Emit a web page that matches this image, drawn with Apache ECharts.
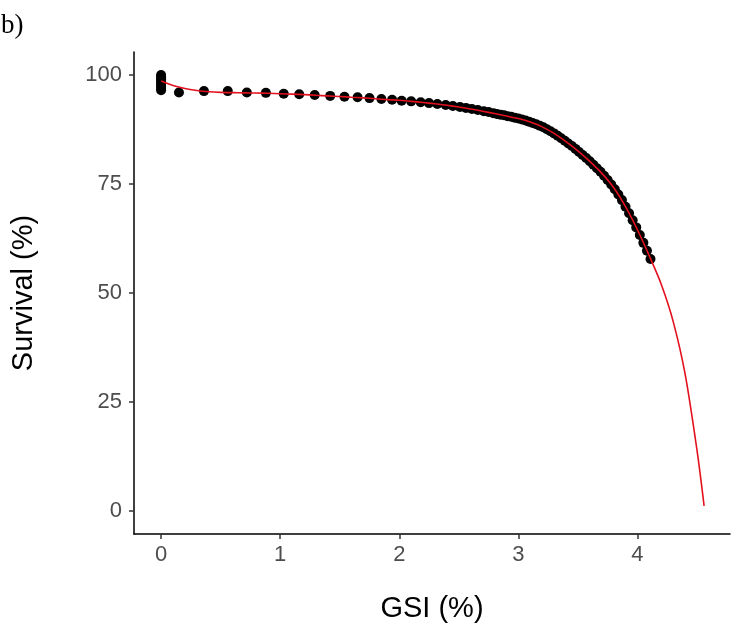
<!DOCTYPE html>
<html><head><meta charset="utf-8">
<script src="https://cdn.jsdelivr.net/npm/echarts@6/dist/echarts.min.js"></script>
<style>html,body{margin:0;padding:0;background:#fff}#c{width:731px;height:634px}</style>
</head><body><div id="c"></div>
<script>
// Observed points (GSI %, Survival %)
const pointGSI = [0,0,0,0,0,0,0,0,
  0.15,0.36,0.56,0.72,0.88,1.03,1.16,1.29,1.42,1.54,1.65,1.75,1.85,1.94,2.02,
  2.10,2.18,2.25,2.32,2.39,2.45,2.51,2.56,2.61,2.66,2.71,2.75,2.79,
  2.82,2.85,2.88,2.91,2.94,2.97,
  3.00,3.03,3.06,3.09,3.12,3.15,3.18,3.21,3.24,3.27,3.30,3.33,3.36,3.39,3.42,3.45,3.48,
  3.51,3.54,3.57,3.60,3.63,3.66,3.69,3.72,3.75,3.78,3.81,3.84,3.87,3.90,3.93,3.96,3.99,
  4.02,4.05,4.08,4.11];
const pointSurv = [96.5,97,97.5,98,98.5,99,99.5,100,
  96.0,96.3,96.3,96.0,95.9,95.7,95.6,95.4,95.2,95.0,94.9,94.7,94.5,94.3,94.1,
  93.95,93.75,93.55,93.35,93.1,92.9,92.65,92.45,92.2,91.95,91.7,91.5,91.25,
  91.05,90.9,90.75,90.55,90.4,90.2,
  90.0,89.8,89.55,89.3,89.0,88.7,88.35,88.0,87.55,87.1,86.6,86.05,85.5,84.9,84.3,83.7,83.05,
  82.35,81.65,80.95,80.2,79.4,78.6,77.8,76.9,75.9,74.9,73.8,72.6,71.3,69.8,68.3,66.7,65.05,
  63.3,61.5,59.7,57.8];
// Fitted curve
const fitGSI = [0,0.1,0.2,0.3,0.4,0.5,0.6,0.7,0.8,0.9,1.0,1.1,1.2,1.3,1.4,1.5,1.6,1.7,1.8,1.9,
  2.0,2.1,2.2,2.3,2.4,2.5,2.6,2.7,2.8,2.9,3.0,3.1,3.2,3.3,3.4,3.5,3.6,3.7,3.8,3.9,
  4.0,4.1,4.2,4.3,4.4,4.5,4.56];
const fitSurv = [98.6,97.6,96.9,96.45,96.15,96.0,95.95,95.9,95.85,95.8,95.7,95.6,95.5,95.35,95.2,95.05,94.9,94.75,94.55,94.35,
  94.2,93.95,93.7,93.4,93.05,92.65,92.2,91.7,91.15,90.6,90.0,89.2,88.1,86.6,84.7,82.6,80.2,77.5,74.2,69.8,
  64.5,58.5,52,43.5,31.5,14,1.2];
const xTicks = [0,1,2,3,4];
const yTicks = [0,25,50,75,100];

const chart = echarts.init(document.getElementById('c'), null, {renderer:'canvas'});
const lab = {color:'#4d4d4d', fontSize:22, fontFamily:'Liberation Sans, Arial, sans-serif'};
chart.setOption({
  animation:false,
  backgroundColor:'#fff',
  title:{text:'b)', left:-4, top:7, textStyle:{fontFamily:'Liberation Serif, Times New Roman, serif', fontSize:27, fontWeight:'normal', color:'#000'}},
  grid:{left:134, right:1, top:52, bottom:100, containLabel:false},
  xAxis:{type:'value', min:-0.2275, max:4.7775,
    name:'GSI (%)', nameLocation:'middle', nameGap:60,
    nameTextStyle:{fontSize:29, color:'#000', fontFamily:'Liberation Sans, Arial, sans-serif'},
    axisLine:{show:true, onZero:false, lineStyle:{color:'#000', width:1.5}},
    axisTick:{show:true, customValues:xTicks, length:5, lineStyle:{color:'#333', width:1.5}},
    axisLabel:Object.assign({customValues:xTicks, margin:10}, lab),
    splitLine:{show:false}},
  yAxis:{type:'value', min:-5.27, max:105.27,
    name:'Survival (%)', nameLocation:'middle', nameGap:96, nameRotate:90,
    nameTextStyle:{fontSize:29, color:'#000', fontFamily:'Liberation Sans, Arial, sans-serif'},
    axisLine:{show:true, onZero:false, lineStyle:{color:'#000', width:1.5}},
    axisTick:{show:true, customValues:yTicks, length:5, lineStyle:{color:'#333', width:1.5}},
    axisLabel:Object.assign({customValues:yTicks, margin:12}, lab),
    splitLine:{show:false}},
  series:[
    {type:'scatter', data:pointGSI.map((x,i)=>[x,pointSurv[i]]), symbol:'circle', symbolSize:10,
      itemStyle:{color:'#000', opacity:1}, z:2},
    {type:'line', data:fitGSI.map((x,i)=>[x,fitSurv[i]]), smooth:0.3, showSymbol:false,
      lineStyle:{color:'#e3101e', width:1.6}, z:3}
  ]
});
</script></body></html>
